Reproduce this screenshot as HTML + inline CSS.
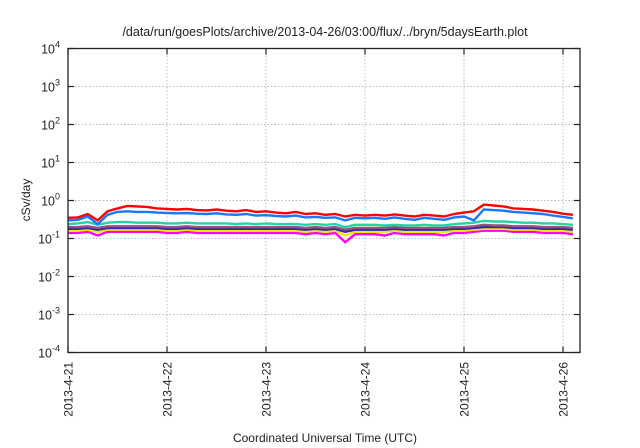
<!DOCTYPE html>
<html><head><meta charset="utf-8"><style>
body{margin:0;background:#fff;}
svg{display:block;font-family:"Liberation Sans",sans-serif;}
</style></head><body>
<svg id="chart" width="640" height="448" viewBox="0 0 640 448">
<text x="325" y="36" font-size="12.5" text-anchor="middle" fill="#222">/data/run/goesPlots/archive/2013-04-26/03:00/flux/../bryn/5daysEarth.plot</text>
<g id="grid"></g>
<g id="series"></g>
<rect x="68" y="48.5" width="512" height="304" fill="none" stroke="#222" stroke-width="1.3"/>
<g id="yticks"></g>
<g id="xticks"></g>
<text transform="translate(30,200) rotate(-90)" font-size="12" text-anchor="middle" fill="#222">cSv/day</text>
<text x="325" y="442" font-size="12" text-anchor="middle" fill="#222">Coordinated Universal Time (UTC)</text>
</svg>
<script>
const xTickLabels=["2013-4-21","2013-4-22","2013-4-23","2013-4-24","2013-4-25","2013-4-26"];
const yTickExps=[4,3,2,1,0,-1,-2,-3,-4];
const sampleStepDays=0.1;
const red=[.35,.36,.44,.30,.52,.62,.72,.70,.68,.62,.60,.58,.60,.56,.55,.58,.54,.52,.56,.50,.52,.48,.46,.50,.44,.46,.42,.44,.38,.42,.40,.42,.40,.43,.40,.38,.42,.40,.38,.44,.48,.52,.78,.74,.70,.62,.60,.58,.54,.50,.45,.42];
const blue=[.30,.31,.38,.24,.42,.50,.52,.50,.50,.48,.47,.46,.47,.45,.44,.46,.43,.42,.44,.40,.41,.39,.38,.40,.36,.37,.35,.36,.30,.35,.34,.35,.33,.36,.33,.31,.35,.33,.31,.36,.38,.30,.58,.56,.54,.50,.48,.46,.44,.40,.37,.34];
const teal=[.24,.25,.27,.23,.26,.27,.27,.26,.26,.26,.25,.25,.26,.25,.25,.25,.25,.24,.25,.24,.25,.24,.24,.24,.23,.24,.23,.24,.20,.23,.23,.23,.22,.23,.22,.22,.23,.22,.22,.24,.25,.26,.29,.28,.28,.27,.26,.26,.25,.25,.24,.23];
const purple=[.20,.20,.21,.19,.21,.21,.21,.21,.21,.21,.20,.20,.21,.20,.20,.20,.20,.20,.20,.20,.20,.20,.20,.20,.19,.20,.19,.20,.17,.19,.19,.19,.19,.20,.19,.19,.19,.19,.19,.20,.20,.21,.23,.22,.22,.21,.21,.21,.20,.20,.20,.19];
const navy=[.18,.18,.19,.17,.19,.19,.19,.19,.19,.19,.18,.18,.19,.18,.18,.18,.18,.18,.18,.18,.18,.18,.18,.18,.17,.18,.17,.18,.15,.17,.17,.17,.17,.18,.17,.17,.17,.17,.17,.18,.18,.19,.20,.20,.20,.19,.19,.19,.18,.18,.18,.17];
const yellow=[.16,.16,.17,.15,.17,.17,.17,.17,.17,.17,.16,.16,.17,.16,.16,.16,.16,.16,.16,.16,.16,.16,.16,.16,.15,.16,.15,.16,.12,.15,.15,.15,.15,.16,.15,.15,.15,.15,.15,.16,.16,.17,.18,.18,.18,.17,.17,.17,.16,.16,.16,.15];
const magenta=[.14,.14,.15,.12,.15,.15,.15,.15,.15,.15,.14,.14,.15,.14,.14,.14,.14,.14,.14,.14,.14,.14,.14,.14,.13,.14,.13,.14,.08,.13,.13,.13,.12,.14,.13,.13,.13,.13,.12,.14,.14,.15,.16,.16,.16,.15,.15,.15,.14,.14,.14,.13];
const NS="http://www.w3.org/2000/svg";
const L=68,R=580,T=48.5,B=352.5,dayPx=99,xMaxDays=(R-L)/dayPx;
function xs(d){return L+d*dayPx;}
function ys(v){return B-(Math.log10(v)+4)*((B-T)/8);}
function mk(tag,attrs,parent){const e=document.createElementNS(NS,tag);for(const k in attrs)e.setAttribute(k,attrs[k]);parent.appendChild(e);return e;}
const grid=document.getElementById('grid'),yt=document.getElementById('yticks'),xt=document.getElementById('xticks'),sg=document.getElementById('series');
yTickExps.forEach(p=>{
 const y=ys(Math.pow(10,p));
 if(p<4&&p>-4){const g=mk('line',{x1:L,x2:R,y1:y,y2:y,stroke:'#bbb','stroke-dasharray':'1.5,2','stroke-width':1},grid);
 
 }
 const t1=mk('line',{x1:L,x2:L+6,y1:y,y2:y,stroke:'#222','stroke-width':1.2},yt);
 
 
 const t2=mk('line',{x1:R-6,x2:R,y1:y,y2:y,stroke:'#222','stroke-width':1.2},yt);
 
 
 const tx=mk('text',{x:60,y:y+5,'font-size':12.5,'text-anchor':'end',fill:'#222'},yt);
 
 
 tx.textContent='10';
 const sp=mk('tspan',{dy:-6,'font-size':9},tx);sp.textContent=String(p);
});
xTickLabels.forEach((lab,i)=>{
 const x=xs(i);
 if(i>0){const g=mk('line',{x1:x,x2:x,y1:T,y2:B,stroke:'#bbb','stroke-dasharray':'1.5,2','stroke-width':1},grid);
 
 }
 const t1=mk('line',{x1:x,x2:x,y1:B-6,y2:B,stroke:'#222','stroke-width':1.2},xt);
 
 
 const t2=mk('line',{x1:x,x2:x,y1:T,y2:T+6,stroke:'#222','stroke-width':1.2},xt);
 
 
 const tx=mk('text',{transform:`translate(${x+4.5},362) rotate(-90)`,'font-size':12,'text-anchor':'end',fill:'#222'},xt);
 
 
 tx.textContent=lab;
});
const seriesList=[['magenta',magenta,'#ff00ff'],['yellow',yellow,'#f5e600'],['navy',navy,'#2a2aa8'],['purple',purple,'#9a4f80'],['teal',teal,'#22d4a4'],['blue',blue,'#1a78ff'],['red',red,'#ff0000']];
seriesList.forEach(([nm,vals,col])=>{
 const pts=vals.map((v,i)=>{const d=Math.min(i*sampleStepDays,xMaxDays);return xs(d).toFixed(1)+','+ys(v).toFixed(1);}).join(' ');
 const pl=mk('polyline',{points:pts,fill:'none',stroke:col,'stroke-width':2.4,'stroke-linejoin':'round'},sg);
 
 
});
</script>
</body></html>
